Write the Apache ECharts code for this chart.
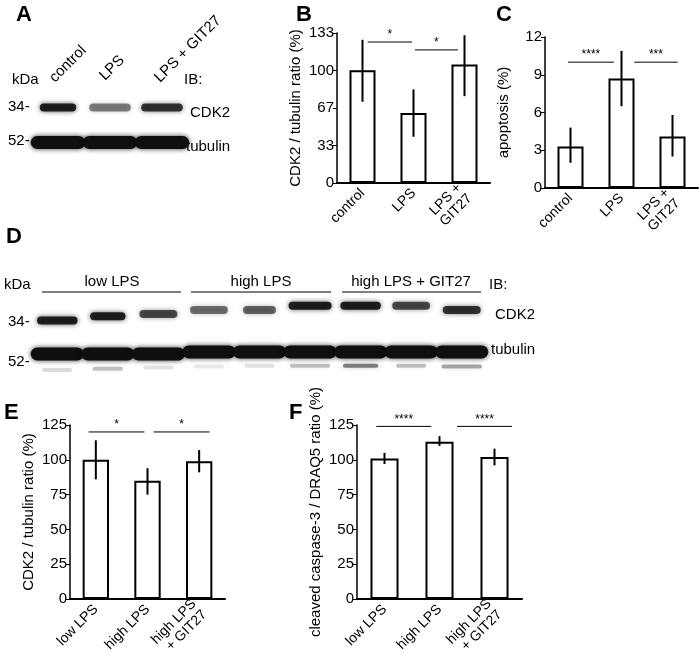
<!DOCTYPE html>
<html>
<head>
<meta charset="utf-8">
<script src="https://cdn.jsdelivr.net/npm/echarts@6/dist/echarts.min.js"></script>
<style>
    html, body { margin: 0; background: #fff; }
    #chart { width: 700px; height: 660px; }
</style>
</head>
<body>
<div id="chart"></div>
<script>
// significance brackets: [from position, to position, value, label] (positions in category units)
// panel B
const bCategories = ['control', 'LPS', 'LPS +\nGIT27'];
const bValues = [100, 62, 105];
const bErrors = [[72, 127], [41, 83], [77, 131]];
const bSig = [[0.1, 0.97, 125, '*'], [1.03, 1.87, 118, '*']];
// panel C
const cCategories = ['control', 'LPS', 'LPS +\nGIT27'];
const cValues = [3.3, 8.7, 4.1];
const cErrors = [[2.0, 4.8], [6.5, 10.9], [2.5, 5.8]];
const cSig = [[-0.05, 0.85, 10.0, '****'], [1.25, 2.1, 10.0, '***']];
// panel E
const eCategories = ['low LPS', 'high LPS', 'high LPS\n+ GIT27'];
const eValues = [100, 85, 99];
const eErrors = [[86, 114], [75, 94], [91, 107]];
const eSig = [[-0.14, 0.94, 120, '*'], [1.12, 2.2, 120, '*']];
// panel F
const fCategories = ['low LPS', 'high LPS', 'high LPS\n+ GIT27'];
const fValues = [101, 113, 102];
const fErrors = [[97, 105], [110, 117], [96, 108]];
const fSig = [[-0.15, 0.85, 124, '****'], [1.32, 2.32, 124, '****']];
// blots: [lane, row, intensity, widthFactor]
const blotA = [
    [0, 1.5, 0.9, 0.7], [1, 1.5, 0.5, 0.8], [2, 1.5, 0.8, 0.8],
    [0, 0.5, 1, 1.05], [1, 0.5, 1, 1.05], [2, 0.5, 1, 1.05]
];
const blotD = [
    [0, 1.3, 0.9, 0.8], [1, 1.4, 0.9, 0.7], [2, 1.45, 0.7, 0.75],
    [3, 1.55, 0.55, 0.75], [4, 1.55, 0.6, 0.65], [5, 1.65, 0.9, 0.85],
    [6, 1.65, 0.9, 0.8], [7, 1.65, 0.7, 0.75], [8, 1.55, 0.8, 0.75],
    [0, 0.5, 1, 1.05], [1, 0.5, 1, 1.05], [2, 0.5, 1, 1.05],
    [3, 0.55, 1, 1.05], [4, 0.55, 1, 1.05], [5, 0.55, 1, 1.05],
    [6, 0.55, 1, 1.05], [7, 0.55, 1, 1.05], [8, 0.55, 1, 1.05],
    [0, 0.12, 0.15, 0.6], [1, 0.15, 0.25, 0.6], [2, 0.18, 0.12, 0.6],
    [3, 0.2, 0.1, 0.6], [4, 0.22, 0.12, 0.6], [5, 0.22, 0.25, 0.8],
    [6, 0.22, 0.5, 0.7], [7, 0.22, 0.25, 0.6], [8, 0.2, 0.35, 0.8]
];

const font = 'Liberation Sans, Arial, sans-serif';
const chart = echarts.init(document.getElementById('chart'));

const grids = [
    { left: 337, top: 33, width: 153, height: 150 },
    { left: 545, top: 37, width: 153, height: 151 },
    { left: 70, top: 425, width: 155, height: 176 },
    { left: 357, top: 425, width: 165, height: 176 },
    { left: 32, top: 90, width: 156, height: 70 },
    { left: 32, top: 291, width: 455, height: 84 }
];

function catAxis(i, cats) {
    return {
        gridIndex: i, type: 'category', data: cats,
        axisLine: { lineStyle: { color: '#000', width: 2 } },
        axisTick: { show: false },
        axisLabel: { rotate: 45, color: '#000', fontSize: 14, fontFamily: font, margin: 8, interval: 0, lineHeight: 15 }
    };
}
function valAxis(i, max, interval, name, fmt) {
    return {
        gridIndex: i, type: 'value', min: 0, max: max, interval: interval,
        name: name, nameLocation: 'middle', nameGap: 34,
        nameTextStyle: { color: '#000', fontSize: 15, fontFamily: font },
        splitLine: { show: false },
        axisLine: { show: true, lineStyle: { color: '#000', width: 1.5 } },
        axisTick: { show: true, length: 4, lineStyle: { color: '#000' } },
        axisLabel: { color: '#000', fontSize: 15, fontFamily: font, margin: 3, formatter: fmt }
    };
}

function barSeries(i, values) {
    return {
        type: 'bar', xAxisIndex: i, yAxisIndex: i, data: values, barWidth: '51%',
        itemStyle: { color: '#fff', borderColor: '#000', borderWidth: 2 }, z: 2
    };
}
function errorSeries(i, errs) {
    return {
        type: 'custom', xAxisIndex: i, yAxisIndex: i, z: 3,
        data: errs.map((e, k) => [k, e[0], e[1]]),
        renderItem(params, api) {
            const lo = api.coord([api.value(0), api.value(1)]);
            const hi = api.coord([api.value(0), api.value(2)]);
            return { type: 'line', shape: { x1: lo[0], y1: lo[1], x2: hi[0], y2: hi[1] }, style: { stroke: '#000', lineWidth: 2 } };
        }
    };
}
function sigSeries(i, sigs) {
    return {
        type: 'custom', xAxisIndex: i, yAxisIndex: i, z: 3,
        data: sigs.map((s, k) => [k, s[2], s[0], s[1]]),
        renderItem(params, api) {
            const bw = api.size([1, 0])[0];
            const base = api.coord([0, api.value(1)]);
            const x1 = base[0] + api.value(2) * bw, x2 = base[0] + api.value(3) * bw;
            return {
                type: 'group', children: [
                    { type: 'line', shape: { x1: x1, y1: base[1], x2: x2, y2: base[1] }, style: { stroke: '#000', lineWidth: 1 } },
                    { type: 'text', x: (x1 + x2) / 2, y: base[1] - 1, style: { text: sigs[params.dataIndex][3], fill: '#000', font: '12px ' + font, align: 'center', verticalAlign: 'bottom' } }
                ]
            };
        }
    };
}
function blotSeries(i, bands) {
    return {
        type: 'custom', xAxisIndex: i, yAxisIndex: i,
        data: bands,
        renderItem(params, api) {
            const c = api.coord([api.value(0) + 0.5, api.value(1)]);
            const w = api.size([1, 0])[0] * api.value(3);
            const h = api.value(1) > 1 ? 8 : (api.value(1) > 0.4 ? 13 : 4);
            return {
                type: 'rect', shape: { x: c[0] - w / 2, y: c[1] - h / 2, width: w, height: h, r: h / 2 },
                style: { fill: 'rgba(15,15,15,' + api.value(2) + ')', shadowBlur: 5, shadowColor: 'rgba(0,0,0,' + api.value(2) * 0.8 + ')' }
            };
        }
    };
}
function hiddenAxes(i, max) {
    return [
        { gridIndex: i, type: 'value', min: 0, max: max, show: false },
        { gridIndex: i, type: 'value', min: 0, max: 2, show: false }
    ];
}

const letter = (t, x, y) => ({ type: 'text', x: x, y: y, style: { text: t, font: 'bold 22px ' + font, fill: '#000' } });
const txt = (t, x, y, extra) => ({ type: 'text', x: x, y: y, rotation: extra && extra.rot ? extra.rot : 0, style: { text: t, font: '15px ' + font, fill: '#000', align: extra && extra.align ? extra.align : 'left', verticalAlign: 'middle' } });
const hline = (x1, x2, y) => ({ type: 'line', shape: { x1: x1, y1: y, x2: x2, y2: y }, style: { stroke: '#000', lineWidth: 1 } });

const haX = hiddenAxes(4, 3), hdX = hiddenAxes(5, 9);

chart.setOption({
    animation: false,
    grid: grids,
    xAxis: [catAxis(0, bCategories), catAxis(1, cCategories), catAxis(2, eCategories), catAxis(3, fCategories), haX[0], hdX[0]],
    yAxis: [
        valAxis(0, 133, 133 / 4, 'CDK2 / tubulin ratio (%)', (v) => Math.round(v)),
        valAxis(1, 12, 3, 'apoptosis (%)'),
        valAxis(2, 125, 25, 'CDK2 / tubulin ratio (%)'),
        valAxis(3, 125, 25, 'cleaved caspase-3 / DRAQ5 ratio (%)'),
        haX[1], hdX[1]
    ],
    series: [
        barSeries(0, bValues), errorSeries(0, bErrors), sigSeries(0, bSig),
        barSeries(1, cValues), errorSeries(1, cErrors), sigSeries(1, cSig),
        barSeries(2, eValues), errorSeries(2, eErrors), sigSeries(2, eSig),
        barSeries(3, fValues), errorSeries(3, fErrors), sigSeries(3, fSig),
        blotSeries(4, blotA), blotSeries(5, blotD)
    ],
    graphic: [
        letter('A', 16, 4), letter('B', 296, 4), letter('C', 496, 4),
        letter('D', 6, 226), letter('E', 4, 402), letter('F', 289, 402),
        txt('kDa', 12, 80), txt('IB:', 184, 80),
        txt('control', 52, 80, { rot: Math.PI / 4 }),
        txt('LPS', 102, 78, { rot: Math.PI / 4 }),
        txt('LPS + GIT27', 157, 80, { rot: Math.PI / 4 }),
        txt('34-', 8, 107), txt('CDK2', 190, 113),
        txt('52-', 8, 141), txt('tubulin', 186, 147),
        txt('kDa', 4, 285), txt('IB:', 489, 285),
        txt('low LPS', 112, 282, { align: 'center' }), hline(42, 181, 292),
        txt('high LPS', 261, 282, { align: 'center' }), hline(191, 331, 292),
        txt('high LPS + GIT27', 411, 282, { align: 'center' }), hline(342, 481, 292),
        txt('34-', 8, 322), txt('CDK2', 495, 315),
        txt('52-', 8, 362), txt('tubulin', 491, 350)
    ]
});
</script>
</body>
</html>
